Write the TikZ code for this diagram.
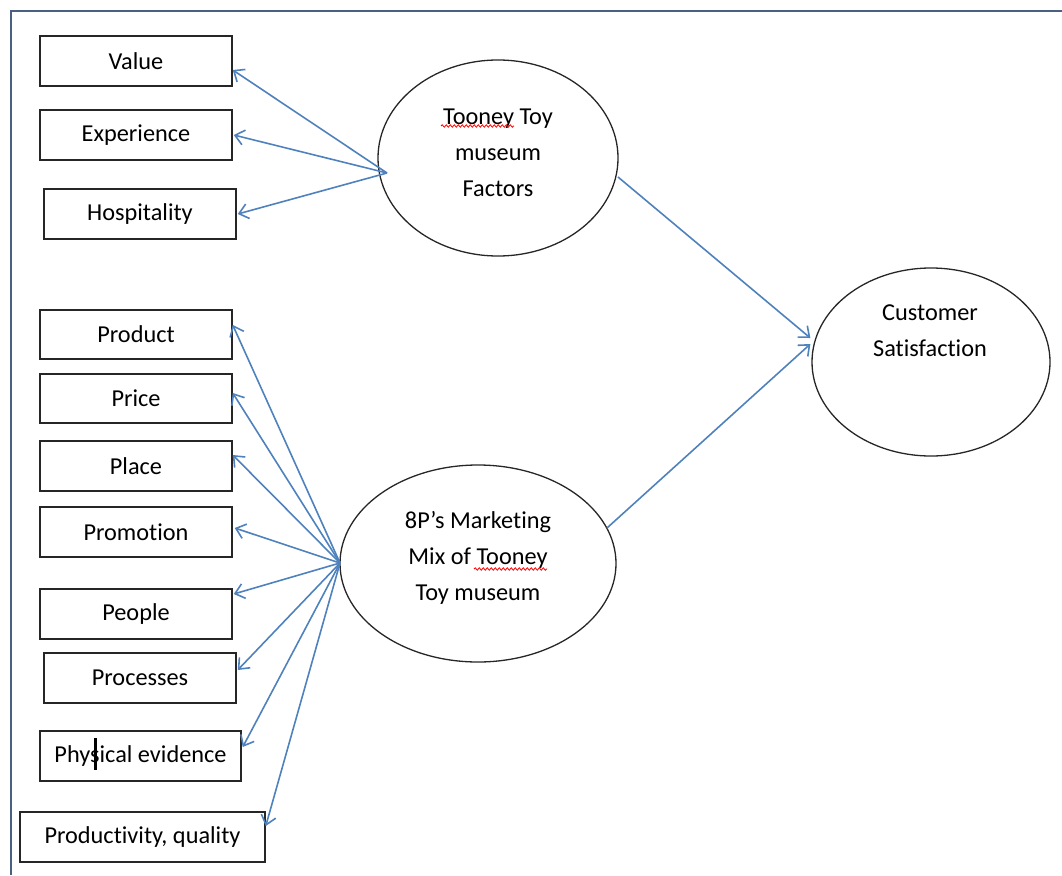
\documentclass[tikz,border=0pt]{standalone}
\usepackage{fontspec}
\setmainfont[Ligatures={NoCommon}]{Carlito}
\usetikzlibrary{arrows.meta,shapes.geometric,decorations.pathmorphing}
\definecolor{arrblue}{HTML}{4F81BD}
\definecolor{framec}{HTML}{4A6080}
\definecolor{boxc}{HTML}{262626}
\begin{document}
\begin{tikzpicture}[x=1pt,y=-1pt,
  font=\fontsize{24.3}{36}\selectfont,
  box/.style={draw=boxc,line width=1.5pt,minimum width=192pt,minimum height=50pt,inner sep=0pt},
  oval/.style={draw=black!85,line width=1.3pt,ellipse,inner sep=0pt},
  lbl/.style={align=center,inner sep=0pt},
  arr/.style={draw=arrblue,line width=1.6pt,-{Straight Barb[length=9pt,width=15pt,line width=1.6pt]}},
  squig/.style={draw=red,line width=0.8pt,decorate,decoration={snake,amplitude=1.2pt,segment length=4pt}}]
\useasboundingbox (0,0) rectangle (1062,875);
% frame
\draw[framec,line width=2pt] (11,875) -- (11,11) -- (1062,11);
% boxes
\node[box] (value) at (136,61) {Value};
\node[box] (exper) at (136,135) {Experience};
\node[box] (hosp) at (140,214) {Hospitality};
\node[box,minimum height=49pt] (product) at (136,334.5) {Product};
\node[box,minimum height=49pt] (price) at (136,398.5) {Price};
\node[box] (place) at (136,466) {Place};
\node[box] (promo) at (136,532) {Promotion};
\node[box] (people) at (136,614) {People};
\node[box] (proc) at (140,678) {Processes};
\node[box,minimum width=201pt] (phys) at (140.5,756) {Physical evidence};
\node[box,minimum width=245pt] (prodq) at (142.5,837) {Productivity, quality};
% cursor mark
\draw[black,line width=3pt] (95,738) -- (95,770);
% ellipses
\node[oval,minimum width=240pt,minimum height=196pt] (tooney) at (498,158) {};
\node[oval,minimum width=276pt,minimum height=197pt] (eightp) at (478,563.5) {};
\node[oval,minimum width=238pt,minimum height=188pt] (cust) at (931,362) {};
\node[lbl] (tooneyt) at (498,153) {Tooney Toy\\museum\\Factors};
\node[lbl] (eightpt) at (478,558) {8P’s Marketing\\Mix of Tooney\\Toy museum};
\node[lbl] (custt) at (930,331) {Customer\\Satisfaction};
% spell-check squiggles
\draw[squig] (441,126) -- (514,126);
\draw[squig] (474,569) -- (547,569);
% connector sources
\coordinate (tsrc) at (387,173);
\coordinate (psrc) at (340,563);
\coordinate (tout) at (618,177);
\coordinate (pout) at (607,528);
\draw[arr] (tsrc) -- ([yshift=-9pt]value.east);
\draw[arr] (tsrc) -- ([xshift=1pt]exper.east);
\draw[arr] (tsrc) -- ([xshift=1pt]hosp.east);
\draw[arr] (psrc) -- ([yshift=9.5pt]product.east);
\draw[arr] (psrc) -- ([yshift=5.5pt]price.east);
\draw[arr] (psrc) -- ([yshift=11pt]place.east);
\draw[arr] (psrc) -- ([xshift=2pt,yshift=4pt]promo.east);
\draw[arr] (psrc) -- ([xshift=1pt,yshift=20pt]people.east);
\draw[arr] (psrc) -- ([xshift=1pt,yshift=8pt]proc.east);
\draw[arr] (psrc) -- ([xshift=1pt,yshift=9pt]phys.east);
\draw[arr] (psrc) -- ([yshift=11pt]prodq.east);
\draw[arr] (tout) -- ([xshift=-1pt,yshift=24pt]cust.west);
\draw[arr] (pout) -- ([xshift=-1pt,yshift=18pt]cust.west);
\end{tikzpicture}
\end{document}
